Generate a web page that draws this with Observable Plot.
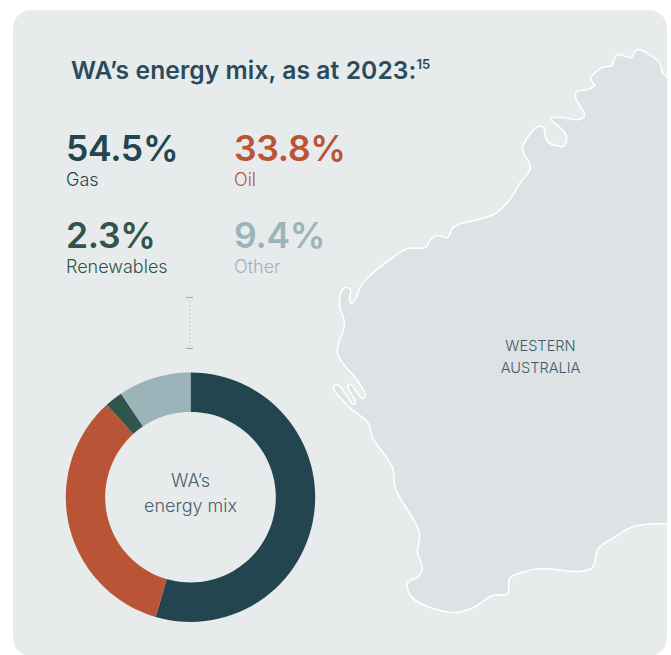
<!DOCTYPE html>
<html lang="en">
<head>
<meta charset="utf-8">
<script src="https://cdn.jsdelivr.net/npm/d3@7"></script>
<script src="https://cdn.jsdelivr.net/npm/@observablehq/plot@0.6"></script>
<style>
html,body{margin:0;padding:0;background:#fff;width:671px;height:655px;overflow:hidden}
#page{position:relative;width:671px;height:655px;overflow:hidden;font-family:Inter,"Noto Sans",sans-serif}
#card{position:absolute;left:13px;top:10px;width:654px;height:646px;background:#e7ebec;border-radius:18px}
#chart{position:absolute;left:0;top:0}
#chart svg{display:block;background:transparent}
#title{position:absolute;left:71px;top:55px;font-size:24.6px;font-weight:600;color:#2b4b5c;white-space:nowrap;line-height:30px;letter-spacing:.1px}
#title sup{font-size:13px;line-height:0;position:relative;top:-1px;vertical-align:super}
.stat{position:absolute;white-space:nowrap}
.stat b{display:block;font-size:35.5px;font-weight:600;line-height:34px;letter-spacing:-.3px}
.stat span{display:block;font-size:18px;font-weight:300;line-height:20px;margin-top:4px}
</style>
</head>
<body>
<div id="page">
  <div id="card"></div>
  <div id="chart"></div>
  <div id="title"></div>
  <div id="stats"></div>
</div>
<script>
const titleText = "WA’s energy mix, as at 2023:";
const titleNote = "15";
const sources = ["Gas", "Oil", "Renewables", "Other"];
const shares = [54.5, 33.8, 2.3, 9.4];
const sourceColors = ["#22454f", "#b95536", "#30554a", "#9bb4ba"];
const statLeft = [66, 234, 66, 234];
const statTop = [132, 132, 219, 219];
const donutLabel = ["WA’s", "energy mix"];
const mapLabel = ["WESTERN", "AUSTRALIA"];

const coast = [[667,77],[662,72],[659,62],[647,53],[638,49],[634,52],[631,57],[625,56],[617,54],[613,60],[612,65],[602,67],[595,72],[590,78],[594,85],[587,89],[576,91],[575,97],[584,115],[578,119],[560,117],[550,118],[565,133],[565,143],[562,146],[548,142],[545,137],[543,127],[538,126],[530,133],[522,148],[530,167],[520,182],[507,202],[493,214],[458,224],[452,228],[447,237],[437,235],[430,239],[425,247],[407,248],[395,255],[362,283],[355,298],[351,303],[349,300],[350,289],[345,287],[341,291],[339,305],[344,323],[337,353],[357,380],[365,395],[362,398],[350,384],[347,385],[355,402],[353,404],[337,384],[333,387],[347,405],[368,423],[372,437],[392,467],[395,488],[419,532],[417,552],[422,568],[417,577],[408,581],[407,588],[415,600],[453,612],[473,607],[492,595],[507,593],[509,578],[518,573],[543,568],[577,571],[592,567],[598,548],[612,538],[633,526],[667,523]];

const cx = 190, cy = 496.7, rOuter = 124.7, rInner = 85.3;
const total = d3.sum(shares);
let running = 0;
const slices = sources.flatMap((source, i) => {
  const a0 = running / total * 2 * Math.PI;
  running += shares[i];
  const a1 = running / total * 2 * Math.PI;
  const steps = d3.range(0, 61).map(k => a0 + (a1 - a0) * k / 60);
  const ring = (r, as) => as.map(a => ({source, x: cx + r * Math.sin(a), y: cy - r * Math.cos(a)}));
  return [...ring(rOuter, steps), ...ring(rInner, steps.slice().reverse())];
});

const plot = Plot.plot({
  width: 671, height: 655, margin: 0,
  x: {domain: [0, 671], range: [0, 671], axis: null},
  y: {domain: [0, 655], range: [0, 655], axis: null},
  color: {domain: sources, range: sourceColors},
  style: {background: "transparent"},
  marks: [
    Plot.line(coast, {x: d => d[0], y: d => d[1], curve: "catmull-rom", fill: "#dde2e4", stroke: "#ffffff", strokeWidth: 1.6}),
    Plot.line(slices, {x: "x", y: "y", z: "source", fill: "source", stroke: "none", curve: "linear-closed"}),
    Plot.ruleX([189.5], {y1: 297, y2: 348, stroke: "#9bb4ba", strokeWidth: 1, strokeDasharray: "1 3"}),
    Plot.ruleY([297, 348], {x1: 186, x2: 193, stroke: "#9bb4ba", strokeWidth: 1.2}),
    Plot.text(donutLabel, {x: cx, y: (d, i) => 481 + i * 24.5, text: d => d, fontSize: 18, fontWeight: 300, fill: "#46606e", fontFamily: "Inter", textAnchor: "middle"}),
    Plot.text(mapLabel, {x: 540, y: (d, i) => 345.5 + i * 22, text: d => d, fontSize: 14.6, fontWeight: 300, fill: "#3c5a68", fontFamily: "Inter", textAnchor: "middle"})
  ]
});
document.getElementById("chart").append(plot);

document.getElementById("title").innerHTML = titleText + "<sup>" + titleNote + "</sup>";
const statsEl = document.getElementById("stats");
sources.forEach((s, i) => {
  const el = document.createElement("div");
  el.className = "stat";
  el.style.left = statLeft[i] + "px";
  el.style.top = statTop[i] + "px";
  el.style.color = sourceColors[i];
  el.innerHTML = "<b>" + shares[i].toFixed(1) + "%</b><span>" + s + "</span>";
  statsEl.append(el);
});
</script>
</body>
</html>
